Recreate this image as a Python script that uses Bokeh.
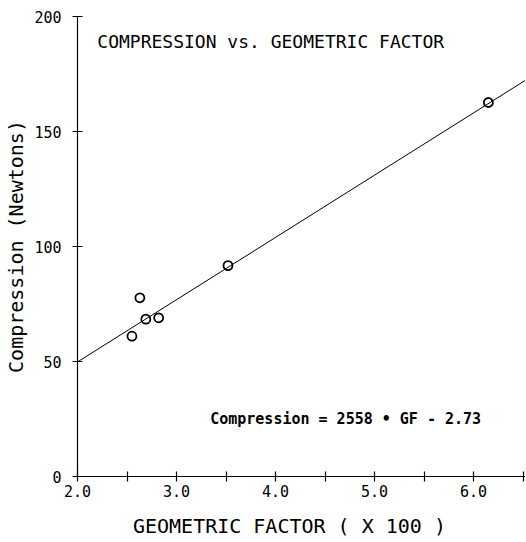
from bokeh.plotting import figure
from bokeh.models import Range1d, FixedTicker, Label
from bokeh.embed import file_html
from bokeh.resources import INLINE

# data
gf = [2.55, 2.63, 2.69, 2.82, 3.52, 6.15]
compression = [61.0, 77.7, 68.4, 69.0, 91.7, 162.6]
fit_x = [2.0, 6.525]
fit_y = [49.8, 172.3]
x_ticks = [2.0, 2.5, 3.0, 3.5, 4.0, 4.5, 5.0, 5.5, 6.0, 6.5]
x_labels = {2.0: "2.0", 2.5: "", 3.0: "3.0", 3.5: "", 4.0: "4.0", 4.5: "",
            5.0: "5.0", 5.5: "", 6.0: "6.0", 6.5: ""}
y_ticks = [0, 50, 100, 150, 200]

FONT = "DejaVu Sans Mono"

p = figure(frame_width=448, frame_height=460, output_backend="svg",
           toolbar_location=None, x_range=Range1d(2.0, 6.525),
           y_range=Range1d(0, 200), min_border_left=77, min_border_right=0,
           min_border_top=16, min_border_bottom=40)
p.outline_line_color = None
p.grid.visible = False
p.background_fill_color = "white"
p.border_fill_color = "white"

for ax in (p.xaxis[0], p.yaxis[0]):
    ax.axis_line_color = "black"
    ax.axis_line_width = 1.2
    ax.major_tick_in = 5
    ax.major_tick_out = 5
    ax.major_tick_line_color = "black"
    ax.major_tick_line_width = 1.2
    ax.minor_tick_line_color = None
    ax.major_label_text_font = FONT
    ax.major_label_text_font_size = "15px"
    ax.major_label_text_color = "black"
    ax.axis_label_text_font = FONT
    ax.axis_label_text_font_style = "normal"
    ax.axis_label_text_color = "black"

p.xaxis.ticker = FixedTicker(ticks=x_ticks)
p.xaxis.major_label_overrides = x_labels
p.xaxis.major_label_standoff = 3
p.xaxis.axis_label = "GEOMETRIC FACTOR   ( X 100 )"
p.xaxis.axis_label_text_font_size = "20px"
p.xaxis.axis_label_standoff = 14

p.yaxis.ticker = FixedTicker(ticks=y_ticks)
p.yaxis.major_label_standoff = 11
p.yaxis.axis_label = "Compression (Newtons)"
p.yaxis.axis_label_text_font_size = "20px"
p.yaxis.axis_label_standoff = 3

p.line(fit_x, fit_y, line_color="black", line_width=1)
p.scatter(gf, compression, marker="circle", size=9, fill_color=None,
          line_color="black", line_width=1.8)

p.add_layout(Label(x=2.2, y=189, text="COMPRESSION vs. GEOMETRIC FACTOR",
                   text_font=FONT, text_font_size="18px", text_color="black",
                   text_baseline="middle", text_align="left"))
p.add_layout(Label(x=3.34, y=25, text="Compression = 2558 • GF - 2.73",
                   text_font=FONT, text_font_size="15px", text_font_style="bold",
                   text_color="black", text_baseline="middle", text_align="left"))

open("out.html", "w").write(file_html(p, INLINE))
